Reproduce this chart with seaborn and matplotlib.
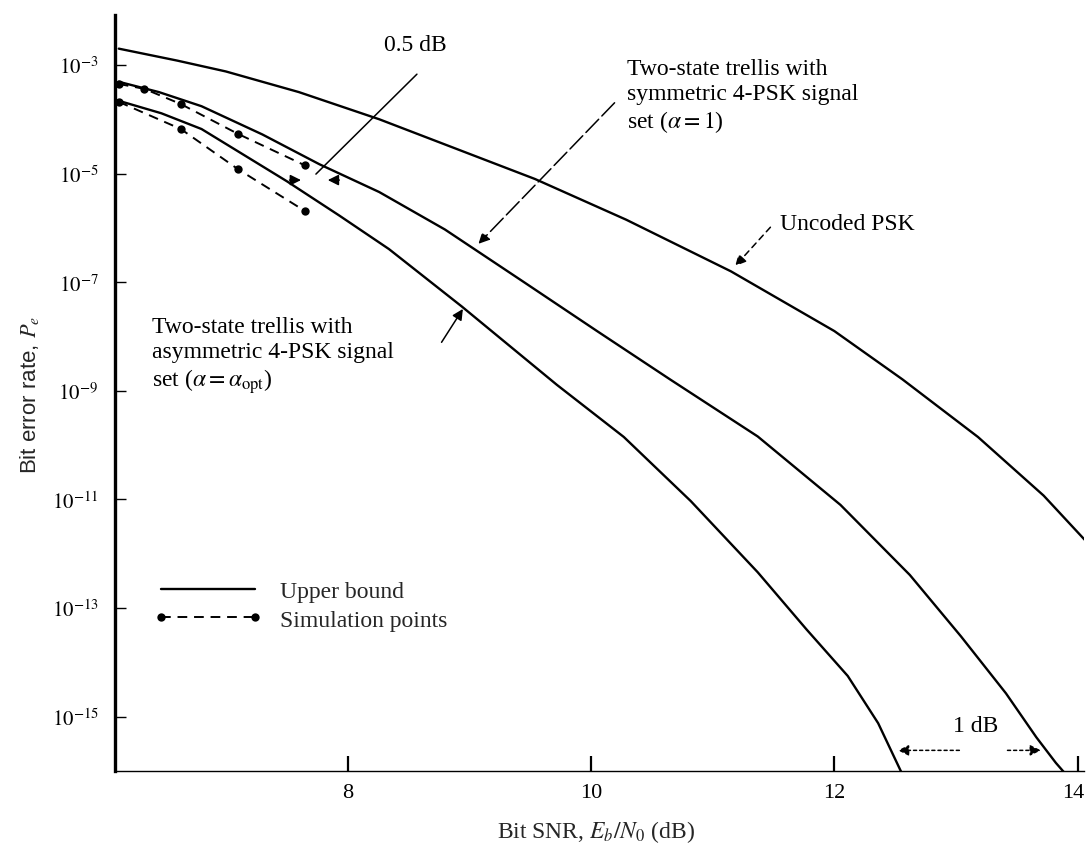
import numpy as np
import pandas as pd
import matplotlib
matplotlib.use('Agg')
import matplotlib.pyplot as plt
import matplotlib.transforms as mtransforms
import seaborn as sns
from matplotlib.lines import Line2D
from matplotlib.ticker import NullLocator

# Eb/N0 in dB and log10 of the bit error rate
uncoded_snr = [6.12, 6.6, 7.0, 7.6, 8.26, 8.9, 9.54, 10.29, 11.15, 12.0, 12.56, 13.18, 13.72, 14.06]
uncoded_log = [-2.70, -2.92, -3.12, -3.50, -4.00, -4.55, -5.10, -5.85, -6.80, -7.90, -8.79, -9.85, -10.93, -11.75]

sym_snr = [6.12, 6.45, 6.80, 7.30, 7.77, 8.26, 8.80, 9.45, 10.05, 10.65, 11.37, 12.05, 12.62, 13.04, 13.41, 13.66, 13.82, 13.89]
sym_log = [-3.31, -3.50, -3.76, -4.28, -4.83, -5.34, -6.03, -7.00, -7.90, -8.79, -9.84, -11.10, -12.39, -13.52, -14.57, -15.38, -15.85, -16.03]

asym_snr = [6.12, 6.47, 6.80, 7.07, 7.50, 7.93, 8.34, 8.94, 9.72, 10.27, 10.82, 11.37, 11.77, 12.11, 12.36, 12.55]
asym_log = [-3.66, -3.89, -4.18, -4.55, -5.14, -5.77, -6.39, -7.45, -8.89, -9.85, -11.03, -12.34, -13.39, -14.25, -15.12, -16.02]

sym_sim_snr = [6.12, 6.33, 6.63, 7.10, 7.65]
sym_sim_log = [-3.35, -3.44, -3.72, -4.27, -4.85]

asym_sim_snr = [6.12, 6.63, 7.10, 7.65]
asym_sim_log = [-3.68, -4.18, -4.92, -5.69]

x_ticks = [8, 10, 12, 14]
y_exponents = [-3, -5, -7, -9, -11, -13, -15]


def frame(snr, logs, name):
    return pd.DataFrame({'snr': snr, 'pb': np.power(10.0, logs), 'curve': name})


bounds = pd.concat([frame(uncoded_snr, uncoded_log, 'uncoded'),
                    frame(sym_snr, sym_log, 'symmetric'),
                    frame(asym_snr, asym_log, 'asymmetric')])
sims = pd.concat([frame(sym_sim_snr, sym_sim_log, 'symmetric'),
                  frame(asym_sim_snr, asym_sim_log, 'asymmetric')])

sns.set_theme(style='white')
plt.rcParams['font.family'] = ['Liberation Serif', 'DejaVu Serif']
plt.rcParams['mathtext.fontset'] = 'stix'

fig = plt.figure(figsize=(10.86, 8.45), dpi=100)
ax = fig.add_axes([0.106, 0.0864, 0.892, 0.8947])

sns.lineplot(data=bounds, x='snr', y='pb', units='curve', estimator=None, sort=False,
             color='black', lw=1.7, ax=ax)
sns.lineplot(data=sims, x='snr', y='pb', units='curve', estimator=None, sort=False,
             color='black', lw=1.4, linestyle=(0, (5, 3.5)), marker='o', markersize=6,
             markeredgewidth=0, ax=ax)

ax.set_yscale('log')
ax.set_xlim(6.09, 14.05)
ax.set_ylim(1e-16, 10 ** -2.08)
ax.set_xticks(x_ticks)
ax.set_xticklabels([str(t) for t in x_ticks])
ax.set_yticks([10.0 ** e for e in y_exponents])
ax.set_yticklabels(['$10^{%d}$' % e for e in y_exponents])
ax.yaxis.set_minor_locator(NullLocator())
ax.set_xlabel('')
ax.set_ylabel('')

for s in ['top', 'right']:
    ax.spines[s].set_visible(False)
ax.spines['left'].set_linewidth(2.4)
ax.spines['left'].set_color('black')
ax.spines['bottom'].set_linewidth(1.0)
ax.spines['bottom'].set_color('black')

ax.tick_params(axis='y', left=True, direction='in', length=8, width=1.0,
               labelsize=15, pad=12, colors='black')
ax.tick_params(axis='x', bottom=True, direction='in', length=11, width=1.6,
               labelsize=16, pad=9, colors='black')

# the last x label sits at the very edge of the page: pull it in a little
last = ax.get_xticklabels()[-1]
last.set_horizontalalignment('right')
last.set_transform(last.get_transform() + mtransforms.ScaledTranslation(5 / 72, 0, fig.dpi_scale_trans))

txt = dict(fontsize=17, color='black')
head = dict(arrowstyle='-|>', color='black', lw=1.1, mutation_scale=16)

ax.text(10.30, 10 ** -3.57, 'Two-state trellis with\nsymmetric 4-PSK signal\nset ($\\alpha = 1$)',
        ha='left', va='center', linespacing=1.25, **txt)
ax.annotate('', xy=(9.06, 10 ** -6.33), xytext=(10.21, 10 ** -3.66),
            arrowprops=dict(head, linestyle=(0, (12, 3))))

ax.text(6.39, 10 ** -8.35, 'Two-state trellis with\nasymmetric 4-PSK signal\nset ($\\alpha = \\alpha_{\\rm opt}$)',
        ha='left', va='center', linespacing=1.25, **txt)
ax.annotate('', xy=(8.96, 10 ** -7.45), xytext=(8.76, 10 ** -8.15), arrowprops=head)

ax.text(11.55, 10 ** -5.92, 'Uncoded PSK', ha='left', va='center', **txt)
ax.annotate('', xy=(11.17, 10 ** -6.74), xytext=(11.49, 10 ** -5.95),
            arrowprops=dict(head, linestyle=(0, (4, 3))))

ax.text(8.555, 10 ** -2.63, '0.5 dB', ha='center', va='center', **txt)
ax.plot([8.57, 7.74], [10 ** -3.17, 10 ** -5.01], color='black', lw=1.1)
ax.annotate('', xy=(7.64, 10 ** -5.12), xytext=(7.50, 10 ** -5.12), arrowprops=head)
ax.annotate('', xy=(7.815, 10 ** -5.12), xytext=(7.955, 10 ** -5.12), arrowprops=head)

ax.text(13.16, 10 ** -15.16, '1 dB', ha='center', va='center', **txt)
ax.annotate('', xy=(12.50, 10 ** -15.62), xytext=(13.05, 10 ** -15.62),
            arrowprops=dict(head, linestyle=(0, (2, 2))))
ax.annotate('', xy=(13.72, 10 ** -15.62), xytext=(13.40, 10 ** -15.62),
            arrowprops=dict(head, linestyle=(0, (2, 2))))

handles = [Line2D([0], [0], color='black', lw=1.7),
           Line2D([0], [0], color='black', lw=1.4, linestyle=(0, (5, 3.5)),
                  marker='o', markersize=6, markeredgewidth=0)]
leg = ax.legend(handles, ['Upper bound', 'Simulation points'], loc='upper left',
                bbox_to_anchor=(0.040, 0.252), frameon=False, numpoints=2,
                handlelength=4.6, handletextpad=0.75, labelspacing=0.3,
                borderpad=0, borderaxespad=0, fontsize=17)

fig.text(0.027, 0.532, 'Bit error rate, $P_e$', rotation=90, ha='center', va='center',
         fontsize=16, family=['Liberation Sans', 'DejaVu Sans'])
fig.text(0.549, 0.0154, 'Bit SNR, $E_b/N_0$ (dB)', ha='center', va='center', fontsize=17)

fig.savefig('out.png', dpi=100, facecolor='white')
